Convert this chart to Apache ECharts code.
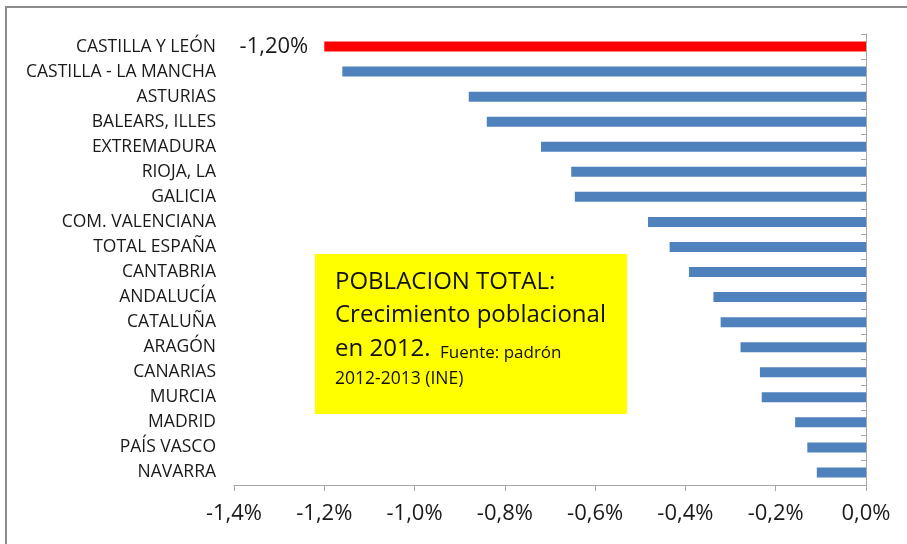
<!DOCTYPE html>
<html>
<head>
<meta charset="utf-8">
<script src="https://cdn.jsdelivr.net/npm/echarts@6/dist/echarts.min.js"></script>
<style>html,body{margin:0;padding:0;background:#fff;}#c{width:907px;height:544px;}</style>
</head>
<body>
<div id="c"></div>
<script>
var categories = ['CASTILLA Y LEÓN','CASTILLA - LA MANCHA','ASTURIAS','BALEARS, ILLES','EXTREMADURA','RIOJA, LA','GALICIA','COM. VALENCIANA','TOTAL ESPAÑA','CANTABRIA','ANDALUCÍA','CATALUÑA','ARAGÓN','CANARIAS','MURCIA','MADRID','PAÍS VASCO','NAVARRA'];
var values = [-1.20,-1.16,-0.88,-0.84,-0.72,-0.653,-0.645,-0.483,-0.435,-0.392,-0.338,-0.322,-0.278,-0.235,-0.231,-0.157,-0.130,-0.109];
var highlighted = 'CASTILLA Y LEÓN';
var axisMin = -1.4, axisMax = 0, axisStep = 0.2;
var boxLines = ['POBLACION TOTAL:','Crecimiento poblacional','en 2012.','Fuente: padrón','2012-2013 (INE)'];

var FONT = '"Open Sans"';
function pct(v, d){ return v.toFixed(d).replace('.', ',') + '%'; }

var data = values.map(function(v, i){
  if (categories[i] === highlighted) {
    return {value: v, itemStyle: {color: '#FF0000'},
      label: {show: true, position: 'left', distance: 16, formatter: function(p){ return pct(p.value, 2); },
        fontFamily: FONT, fontSize: 22, color: '#1a1a1a'}};
  }
  return v;
});

var chart = echarts.init(document.getElementById('c'), null, {renderer: 'canvas'});
chart.setOption({
  animation: false,
  backgroundColor: '#fff',
  grid: {left: 234, right: 41, top: 34, bottom: 59, containLabel: false},
  xAxis: {
    type: 'value', min: axisMin, max: axisMax, interval: axisStep,
    axisLine: {show: true, lineStyle: {color: '#A6A6A6', width: 1}},
    axisTick: {show: true, length: 6, lineStyle: {color: '#A6A6A6'}},
    splitLine: {show: false},
    axisLabel: {margin: 18, fontFamily: FONT, fontSize: 22, color: '#1a1a1a', formatter: function(v){ return pct(v, 1); }}
  },
  yAxis: [{
    type: 'category', data: categories, inverse: true, position: 'left',
    axisLine: {show: false}, axisTick: {show: false},
    axisLabel: {margin: 18, fontFamily: FONT, fontSize: 17.5, color: '#1a1a1a', padding: [2, 0, 0, 0]}
  }, {
    type: 'category', data: categories, inverse: true, position: 'right',
    axisLine: {show: true, onZero: false, lineStyle: {color: '#A6A6A6', width: 1}},
    axisTick: {show: true, inside: true, length: 5, lineStyle: {color: '#A6A6A6'}},
    axisLabel: {show: false}
  }],
  series: [{
    type: 'bar', data: data, barWidth: 10, yAxisIndex: 0,
    itemStyle: {color: '#4F81BD'}
  }],
  graphic: [
    {type: 'rect', z: 100, shape: {x: 6, y: 7, width: 1000, height: 1000}, style: {fill: 'none', stroke: '#8C8C8C', lineWidth: 2}},
    {type: 'rect', z: 100, shape: {x: 315, y: 254, width: 312, height: 160}, style: {fill: '#FFFF00'}},
    {type: 'text', z: 101, x: 335, y: 282, style: {text: boxLines[0], font: '24px ' + FONT, fill: '#111', verticalAlign: 'middle'}},
    {type: 'text', z: 101, x: 335, y: 315, style: {text: boxLines[1], font: '24px ' + FONT, fill: '#111', verticalAlign: 'middle'}},
    {type: 'text', z: 101, x: 335, y: 349, style: {text: boxLines[2], font: '24px ' + FONT, fill: '#111', verticalAlign: 'middle'}},
    {type: 'text', z: 101, x: 440, y: 353, style: {text: boxLines[3], font: '17px ' + FONT, fill: '#111', verticalAlign: 'middle'}},
    {type: 'text', z: 101, x: 335, y: 379, style: {text: boxLines[4], font: '17.5px ' + FONT, fill: '#111', verticalAlign: 'middle'}}
  ]
});
</script>
</body>
</html>
